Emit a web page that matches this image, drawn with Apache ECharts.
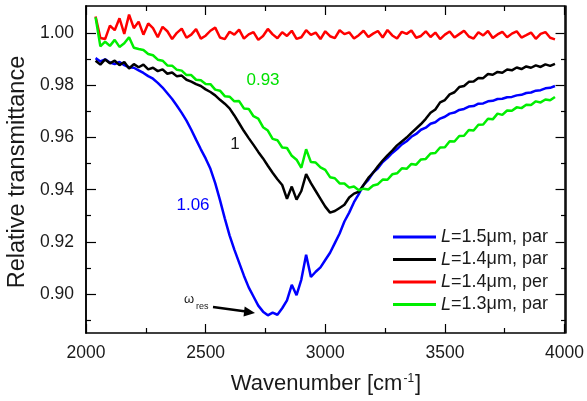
<!DOCTYPE html>
<html><head><meta charset="utf-8">
<script src="https://cdn.jsdelivr.net/npm/echarts@6/dist/echarts.min.js"></script>
<style>html,body{margin:0;padding:0;background:#fff}#c{width:587px;height:401px}</style>
</head><body><div id="c"></div>
<script>
const wavenumbers = [
2040,2060,2080,2100,2120,2140,2160,2180,2200,2220,
2240,2260,2280,2300,2320,2340,2360,2380,2400,2420,
2440,2460,2480,2500,2520,2540,2560,2580,2600,2620,
2640,2660,2680,2700,2720,2740,2760,2780,2800,2820,
2840,2860,2880,2900,2920,2940,2960,2980,3000,3020,
3040,3060,3080,3100,3120,3140,3160,3180,3200,3220,
3240,3260,3280,3300,3320,3340,3360,3380,3400,3420,
3440,3460,3480,3500,3520,3540,3560,3580,3600,3620,
3640,3660,3680,3700,3720,3740,3760,3780,3800,3820,
3840,3860,3880,3900,3920,3940,3960];
const blue15par = [
0.9905,0.9892,0.9900,0.9888,0.9882,0.9890,0.9878,0.9870,0.9868,0.9858,
0.9848,0.9836,0.9826,0.9810,0.9792,0.9770,0.9748,0.9722,0.9695,0.9665,
0.9630,0.9592,0.9555,0.9520,0.9480,0.9425,0.9360,0.9290,0.9225,0.9170,
0.9120,0.9070,0.9025,0.8990,0.8955,0.8932,0.8918,0.8928,0.8920,0.8945,
0.8975,0.9035,0.8995,0.9055,0.9150,0.9065,0.9085,0.9102,0.9130,0.9158,
0.9195,0.9232,0.9278,0.9312,0.9352,0.9383,0.9418,0.9438,0.9466,0.9482,
0.9506,0.9522,0.9541,0.9556,0.9574,0.9586,0.9603,0.9614,0.9630,0.9638,
0.9653,0.9659,0.9673,0.9680,0.9692,0.9696,0.9706,0.9710,0.9719,0.9721,
0.9730,0.9731,0.9739,0.9741,0.9748,0.9749,0.9755,0.9756,0.9762,0.9764,
0.9771,0.9773,0.9780,0.9782,0.9789,0.9791,0.9798];
const black14par = [
0.9895,0.9880,0.9900,0.9885,0.9895,0.9878,0.9890,0.9865,0.9882,0.9870,
0.9880,0.9862,0.9868,0.9855,0.9862,0.9845,0.9850,0.9835,0.9838,0.9822,
0.9815,0.9805,0.9798,0.9785,0.9775,0.9762,0.9745,0.9730,0.9712,0.9685,
0.9655,0.9625,0.9598,0.9572,0.9545,0.9520,0.9492,0.9465,0.9440,0.9418,
0.9365,0.9412,0.9362,0.9395,0.9460,0.9425,0.9395,0.9365,0.9335,0.9312,
0.9318,0.9330,0.9342,0.9370,0.9385,0.9392,0.9418,0.9445,0.9465,0.9490,
0.9512,0.9532,0.9550,0.9570,0.9585,0.9600,0.9618,0.9635,0.9652,0.9672,
0.9695,0.9708,0.9735,0.9744,0.9766,0.9774,0.9794,0.9798,0.9814,0.9815,
0.9829,0.9828,0.9844,0.9841,0.9852,0.9849,0.9861,0.9858,0.9869,0.9863,
0.9873,0.9868,0.9877,0.9871,0.9881,0.9875,0.9883];
const red14per = [
1.0065,0.9982,0.9978,1.0030,1.0012,1.0058,0.9998,1.0072,1.0020,1.0045,
0.9995,1.0038,1.0020,0.9985,1.0025,1.0008,0.9978,1.0002,1.0018,0.9983,
0.9995,1.0016,0.9980,0.9991,1.0010,1.0022,0.9984,0.9978,1.0006,0.9995,
1.0014,0.9980,0.9996,1.0005,0.9975,0.9990,1.0017,0.9996,0.9981,1.0004,
0.9990,1.0010,0.9979,0.9985,1.0012,0.9994,1.0003,0.9978,1.0008,0.9989,
0.9982,1.0012,0.9997,1.0004,0.9980,0.9993,1.0010,0.9986,0.9999,1.0009,
0.9984,1.0013,0.9992,0.9980,1.0006,0.9998,1.0011,0.9983,0.9990,1.0008,
0.9986,1.0003,0.9978,0.9995,1.0007,0.9984,0.9997,1.0010,0.9988,0.9980,
1.0004,0.9992,1.0009,0.9982,0.9996,1.0006,0.9985,0.9999,1.0008,0.9984,
0.9993,1.0003,0.9979,0.9998,1.0005,0.9983,0.9977];
const green13par = [
1.0062,0.9950,0.9968,0.9952,0.9975,0.9948,0.9962,0.9985,0.9945,0.9940,
0.9936,0.9921,0.9916,0.9899,0.9895,0.9877,0.9876,0.9860,0.9857,0.9840,
0.9840,0.9822,0.9820,0.9806,0.9805,0.9784,0.9780,0.9759,0.9757,0.9739,
0.9740,0.9712,0.9710,0.9682,0.9673,0.9640,0.9627,0.9595,0.9590,0.9562,
0.9560,0.9530,0.9515,0.9484,0.9555,0.9506,0.9504,0.9486,0.9476,0.9448,
0.9444,0.9424,0.9424,0.9408,0.9412,0.9398,0.9404,0.9401,0.9416,0.9421,
0.9439,0.9438,0.9459,0.9463,0.9482,0.9480,0.9499,0.9496,0.9516,0.9518,
0.9539,0.9541,0.9562,0.9563,0.9586,0.9585,0.9606,0.9607,0.9629,0.9627,
0.9649,0.9650,0.9672,0.9670,0.9692,0.9687,0.9704,0.9703,0.9716,0.9713,
0.9726,0.9725,0.9739,0.9735,0.9746,0.9743,0.9756];
const seriesNames = ['L=1.5μm, par','L=1.4μm, par','L=1.4μm, per','L=1.3μm, par'];
const seriesColors = ['#0000ff','#000000','#ff0000','#00ee00'];
const seriesValues = [blue15par, black14par, red14per, green13par];
const yMajorTicks = [0.90,0.92,0.94,0.96,0.98,1.00];
const yMinorTicks = [0.89,0.91,0.93,0.95,0.97,0.99];
const xTickLabels = [2000,2500,3000,3500,4000];

const FONT = 'Liberation Sans, Arial, sans-serif';
const chart = echarts.init(document.getElementById('c'), null, {renderer:'canvas'});
const gridRect = {left:86, right:21, top:6, bottom:68};
const yMin = 0.885, yMax = 1.0105;
const line = {show:true, lineStyle:{color:'#000', width:1.5}};
function yAx(gridIndex, pos, ticks, len, labels){
  return {type:'value', gridIndex, position:pos, min:yMin, max:yMax,
    axisLine:line, splitLine:{show:false},
    axisTick:{show:true, inside:true, length:len, customValues:ticks, lineStyle:{color:'#000', width:1.2}},
    axisLabel:{show:labels, customValues:ticks, margin:12, fontSize:17.5, color:'#1a1a1a', fontFamily:FONT,
      formatter:v=>v.toFixed(2)}};
}
function xAx(gridIndex, pos, labels, show){
  return {type:'value', gridIndex, position:pos, min:2000, max:4000, interval:500, show:show,
    axisLine:line, splitLine:{show:false},
    axisTick:{show:true, inside:true, length:9, lineStyle:{color:'#000', width:1.2}},
    minorTick:{show:true, splitNumber:2, length:5, lineStyle:{color:'#000', width:1.2}},
    axisLabel:{show:labels, margin:11, fontSize:17.5, color:'#1a1a1a', fontFamily:FONT,
      formatter:v=>String(v)}};
}
const option = {
  animation:false,
  backgroundColor:'#fff',
  grid:[Object.assign({}, gridRect), Object.assign({}, gridRect)],
  xAxis:[xAx(0,'bottom',true,true), xAx(0,'top',false,true), xAx(1,'bottom',false,false)],
  yAxis:[yAx(0,'left',yMajorTicks,10,true), yAx(0,'right',yMajorTicks,9,false),
         yAx(1,'left',yMinorTicks,5,false), yAx(1,'right',yMinorTicks,5,false)],
  legend:{left:388, top:223, orient:'vertical', itemWidth:43, itemHeight:3, itemGap:4.5, icon:'rect',
    data:seriesNames,
    formatter:n=>'{i|L}'+n.slice(1),
    textStyle:{fontSize:18, color:'#1a1a1a', fontFamily:FONT, lineHeight:18,
      rich:{i:{fontStyle:'italic', fontSize:18, fontFamily:FONT, color:'#1a1a1a'}}}},
  series: seriesNames.map((n,k)=>({
    name:n, type:'line', xAxisIndex:0, yAxisIndex:0, showSymbol:false, symbol:'none',
    lineStyle:{color:seriesColors[k], width:2.5}, itemStyle:{color:seriesColors[k]},
    data: wavenumbers.map((w,i)=>[w, seriesValues[k][i]])
  })),
  graphic:[
    {type:'text', x:326, y:384, style:{text:'{a|Wavenumber [cm}{s|-1}{a|]}', align:'center', verticalAlign:'middle',
      rich:{a:{fontSize:22, fontFamily:FONT, fill:'#1a1a1a'}, s:{fontSize:12, fontFamily:FONT, fill:'#1a1a1a', verticalAlign:'top', padding:[0,1,10,1]}}}},
    {type:'text', x:18, y:172, rotation:Math.PI/2, style:{text:'Relative transmittance', align:'center', verticalAlign:'middle', fontSize:23.5, fontFamily:FONT, fill:'#1a1a1a'}},
    {type:'text', x:263, y:80, style:{text:'0.93', align:'center', verticalAlign:'middle', fontSize:17, fontFamily:FONT, fill:'#00e000'}},
    {type:'text', x:235, y:144, style:{text:'1', align:'center', verticalAlign:'middle', fontSize:17, fontFamily:FONT, fill:'#1a1a1a'}},
    {type:'text', x:193, y:205, style:{text:'1.06', align:'center', verticalAlign:'middle', fontSize:17, fontFamily:FONT, fill:'#0000ff'}},
    {type:'text', x:184, y:293, style:{text:'ω', fontSize:13, fontFamily:FONT, fill:'#1a1a1a'}},
    {type:'text', x:196, y:302, style:{text:'res', fontSize:9, fontFamily:FONT, fill:'#1a1a1a'}},
    {type:'line', shape:{x1:213, y1:307, x2:246, y2:311.5}, style:{stroke:'#000', lineWidth:2.5}},
    {type:'polygon', shape:{points:[[255,313],[243.5,316.5],[244.7,306.5]]}, style:{fill:'#000'}}
  ]
};
chart.setOption(option);
</script>
</body></html>
